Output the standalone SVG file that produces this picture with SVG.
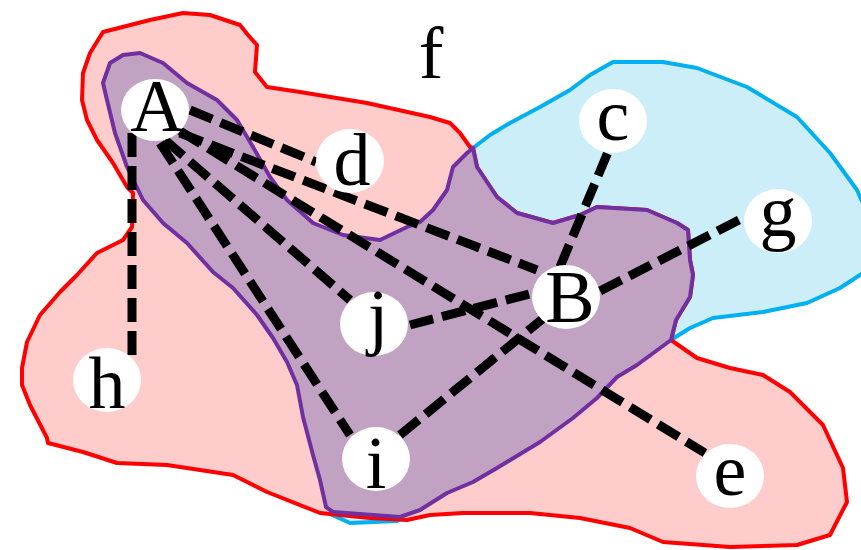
<svg xmlns="http://www.w3.org/2000/svg" width="861" height="550" viewBox="0 0 861 550">
<style>
.blue{fill:#CCEEF9;stroke:#00B0F0;stroke-width:4;stroke-linejoin:round}
.red{fill:#FFCCCC;stroke:#FF0000;stroke-width:4;stroke-linejoin:round}
.purple{fill:#C2A2C2;stroke:#7030A0;stroke-width:4;stroke-linejoin:round}
.edge{stroke:#000;stroke-width:9;stroke-dasharray:24 9;fill:none}
.node ellipse{fill:#fff}
.node text{font-family:"Liberation Serif","Times New Roman",serif;font-size:74px;fill:#000;text-anchor:middle}
.lbl{font-family:"Liberation Serif","Times New Roman",serif;font-size:74px;fill:#000;text-anchor:middle}
</style>
<g id="regions">
<polygon id="setBlue" class="blue" points="473,148 490,135 510,123 540,107 570,90 590,75 613,62 663,62 697,68 747,87 797,117 830,153 857,190 875,230 872,268 860,275 840,288 807,303 763,312 713,318 690,328 671,340 637,365 617,377 597,398 573,418 540,442 497,468 473,482 447,493 420,510 397,521 350,523 330,514 320,480 313,455 303,417 297,385 287,362 273,338 257,315 233,288 213,272 187,243 163,223 143,200 127,167 115,133 107,100 103,83 110,63 123,55 140,53 163,63 187,83 217,100 237,120 253,147 270,177 287,200 313,223 343,235 380,240 407,227 420,222 433,210 447,190 453,167 467,153"/>
<polygon id="setRed" class="red" points="473,148 477,167 497,197 517,213 553,223 580,215 597,207 647,210 677,223 688,230 690,260 693,275 690,297 676,320 671,340 697,358 730,368 763,375 790,392 823,425 843,468 847,502 830,535 797,545 730,547 663,542 630,528 580,518 530,513 463,513 430,515 407,520 370,518 320,513 267,492 233,475 167,465 117,463 83,452 48,443 47,438 30,405 22,385 22,368 27,342 40,315 60,292 77,275 97,253 123,240 132,227 133,193 127,187 113,163 97,140 87,120 82,100 83,73 90,53 103,32 150,20 183,13 210,15 240,25 248,35 257,45 255,72 267,87 300,92 367,103 430,117 450,123 460,133 470,147"/>
<polygon id="setPurple" class="purple" points="103,83 110,63 123,55 140,53 163,63 187,83 217,100 237,120 253,147 270,177 287,200 313,223 343,235 380,240 407,227 420,222 433,210 447,190 453,167 467,153 473,148 477,167 497,197 517,213 553,223 580,215 597,207 647,210 677,223 688,230 690,260 693,275 690,297 676,320 671,340 637,365 617,377 597,398 573,418 540,442 497,468 473,482 447,493 420,510 400,517 333,512 326,507 320,480 313,455 303,417 297,385 287,362 273,338 257,315 233,288 213,272 187,243 163,223 143,200 127,167 115,133 107,100"/>
</g>
<g id="connectors">
<line class="edge" x1="132" y1="133" x2="132" y2="357"/>
<line class="edge" x1="190" y1="110" x2="316" y2="162"/>
<line class="edge" x1="180" y1="133" x2="537" y2="270"/>
<line class="edge" x1="180" y1="131" x2="705" y2="453"/>
<line class="edge" x1="165" y1="140" x2="350" y2="300"/>
<line class="edge" x1="160" y1="143" x2="350" y2="435"/>
<line class="edge" x1="560" y1="267" x2="608" y2="152"/>
<line class="edge" x1="600" y1="291" x2="745" y2="217"/>
<line class="edge" x1="410" y1="325" x2="533" y2="293"/>
<line class="edge" x1="400" y1="435" x2="545" y2="317"/>
</g>
<g id="node-A" class="node"><ellipse cx="155" cy="110" rx="34" ry="31"/><text x="157" y="131">A</text></g>
<g id="node-d" class="node"><ellipse cx="350" cy="161" rx="34" ry="32"/><text x="352" y="185">d</text></g>
<g id="node-c" class="node"><ellipse cx="613" cy="121" rx="34" ry="32"/><text x="613" y="140">c</text></g>
<g id="node-g" class="node"><ellipse cx="778" cy="221" rx="34" ry="32"/><text x="778" y="236">g</text></g>
<g id="node-B" class="node"><ellipse cx="566" cy="297" rx="34" ry="32"/><text x="570" y="322">B</text></g>
<g id="node-j" class="node"><ellipse cx="374" cy="324" rx="34" ry="32"/><text x="378" y="341">j</text></g>
<g id="node-h" class="node"><ellipse cx="107" cy="380" rx="34" ry="32"/><text x="107" y="408">h</text></g>
<g id="node-i" class="node"><ellipse cx="376" cy="459" rx="34" ry="32"/><text x="376" y="488">i</text></g>
<g id="node-e" class="node"><ellipse cx="730" cy="476" rx="34" ry="32"/><text x="730" y="495">e</text></g>
<text id="label-f" class="lbl" x="431" y="78">f</text>
</svg>
